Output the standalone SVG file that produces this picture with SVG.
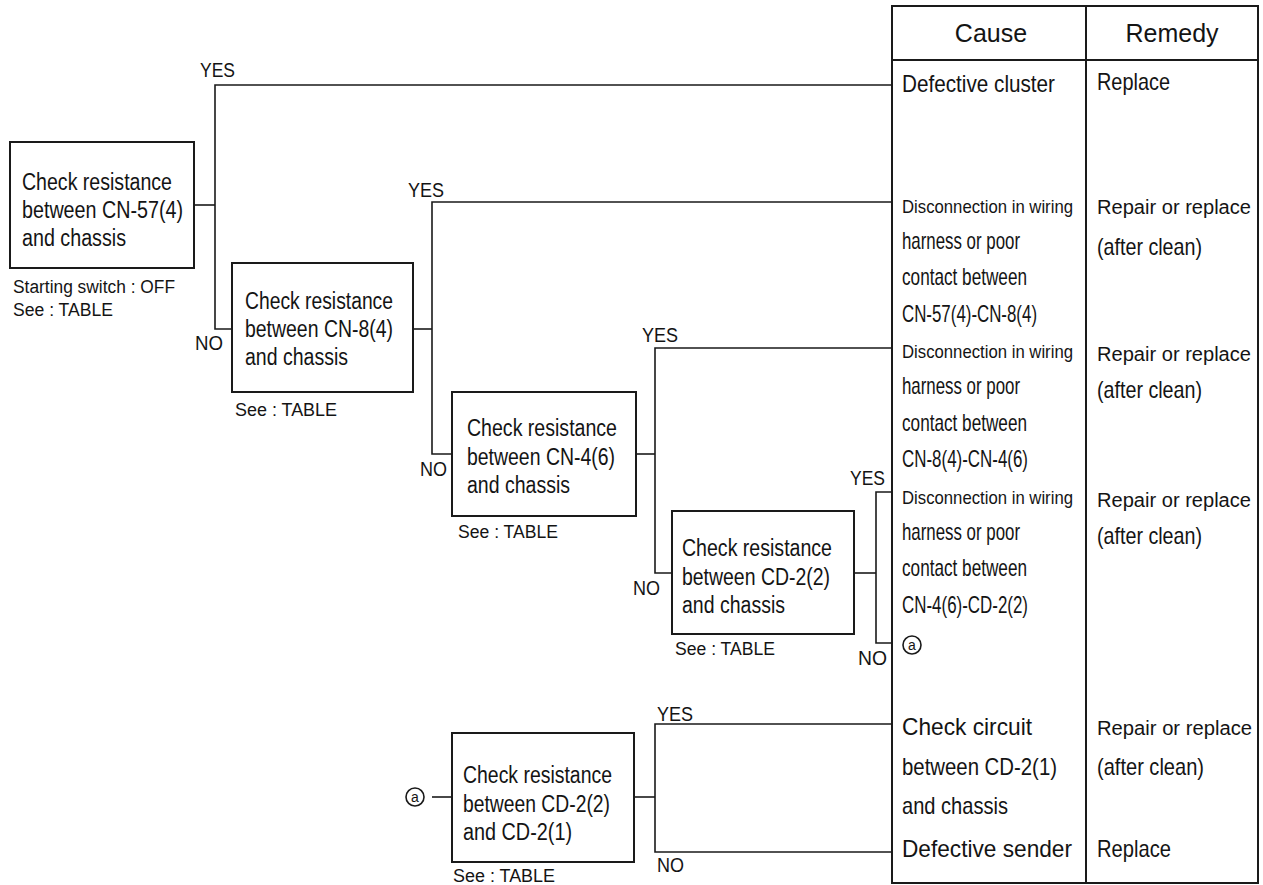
<svg xmlns="http://www.w3.org/2000/svg" width="1263" height="885" viewBox="0 0 1263 885">
<style>
text{font-family:"Liberation Sans",Arial,sans-serif;fill:#141414}
.b{font-size:23px}
.t{font-size:24px}
.d{font-size:19px}
.r{font-size:20px}
.h{font-size:25px}
.s{font-size:18px}
.l{font-size:20px}
.box{fill:none;stroke:#1a1a1a;stroke-width:2}
.ln{fill:none;stroke:#1a1a1a;stroke-width:1.6}
</style>
<rect x="0" y="0" width="1263" height="885" fill="#fff"/>

<g id="table">
<rect class="box" x="892" y="6" width="366" height="877"/>
<line class="box" x1="892" y1="60" x2="1258" y2="60"/>
<line class="box" x1="1086" y1="6" x2="1086" y2="883"/>
<text class="h" x="991" y="42" text-anchor="middle">Cause</text>
<text class="h" x="1172" y="42" text-anchor="middle">Remedy</text>
</g>

<g id="causes">
<text class="t" x="902" y="92" textLength="153" lengthAdjust="spacingAndGlyphs">Defective cluster</text>
<text class="d" x="902" y="213" textLength="171" lengthAdjust="spacingAndGlyphs">Disconnection in wiring</text>
<text class="t" x="902" y="249" textLength="118" lengthAdjust="spacingAndGlyphs">harness or poor</text>
<text class="t" x="902" y="285" textLength="125" lengthAdjust="spacingAndGlyphs">contact between</text>
<text class="t" x="902" y="322" textLength="135" lengthAdjust="spacingAndGlyphs">CN-57(4)-CN-8(4)</text>
<text class="d" x="902" y="358" textLength="171" lengthAdjust="spacingAndGlyphs">Disconnection in wiring</text>
<text class="t" x="902" y="394" textLength="118" lengthAdjust="spacingAndGlyphs">harness or poor</text>
<text class="t" x="902" y="431" textLength="125" lengthAdjust="spacingAndGlyphs">contact between</text>
<text class="t" x="902" y="467" textLength="126" lengthAdjust="spacingAndGlyphs">CN-8(4)-CN-4(6)</text>
<text class="d" x="902" y="504" textLength="171" lengthAdjust="spacingAndGlyphs">Disconnection in wiring</text>
<text class="t" x="902" y="540" textLength="118" lengthAdjust="spacingAndGlyphs">harness or poor</text>
<text class="t" x="902" y="576" textLength="125" lengthAdjust="spacingAndGlyphs">contact between</text>
<text class="t" x="902" y="613" textLength="126" lengthAdjust="spacingAndGlyphs">CN-4(6)-CD-2(2)</text>
<circle cx="912" cy="645" r="9" fill="none" stroke="#1a1a1a" stroke-width="1.6"/>
<text x="912" y="650" font-size="14" text-anchor="middle">a</text>
<text class="t" x="902" y="735" textLength="130" lengthAdjust="spacingAndGlyphs">Check circuit</text>
<text class="t" x="902" y="775" textLength="155" lengthAdjust="spacingAndGlyphs">between CD-2(1)</text>
<text class="t" x="902" y="814" textLength="106" lengthAdjust="spacingAndGlyphs">and chassis</text>
<text class="t" x="902" y="857" textLength="170" lengthAdjust="spacingAndGlyphs">Defective sender</text>
</g>

<g id="remedies">
<text class="t" x="1097" y="90" textLength="73" lengthAdjust="spacingAndGlyphs">Replace</text>
<text class="r" x="1097" y="214" textLength="154" lengthAdjust="spacingAndGlyphs">Repair or replace</text>
<text class="t" x="1097" y="255" textLength="105" lengthAdjust="spacingAndGlyphs">(after clean)</text>
<text class="r" x="1097" y="361" textLength="154" lengthAdjust="spacingAndGlyphs">Repair or replace</text>
<text class="t" x="1097" y="398" textLength="105" lengthAdjust="spacingAndGlyphs">(after clean)</text>
<text class="r" x="1097" y="507" textLength="154" lengthAdjust="spacingAndGlyphs">Repair or replace</text>
<text class="t" x="1097" y="544" textLength="105" lengthAdjust="spacingAndGlyphs">(after clean)</text>
<text class="r" x="1097" y="735" textLength="155" lengthAdjust="spacingAndGlyphs">Repair or replace</text>
<text class="t" x="1097" y="775" textLength="107" lengthAdjust="spacingAndGlyphs">(after clean)</text>
<text class="t" x="1097" y="857" textLength="74" lengthAdjust="spacingAndGlyphs">Replace</text>
</g>

<g id="connectors">
<polyline class="ln" points="194,205 215,205"/>
<polyline class="ln" points="892,85 215,85 215,329 232,329"/>
<polyline class="ln" points="413,329 432,329"/>
<polyline class="ln" points="892,202 432,202 432,454 452,454"/>
<polyline class="ln" points="636,454 655,454"/>
<polyline class="ln" points="892,348 655,348 655,573 672,573"/>
<polyline class="ln" points="854,573 876,573"/>
<polyline class="ln" points="892,492 876,492 876,643 892,643"/>
<polyline class="ln" points="432,797 452,797"/>
<polyline class="ln" points="634,797 655,797"/>
<polyline class="ln" points="892,724 655,724 655,852 892,852"/>
<text class="l" x="200" y="77" textLength="35" lengthAdjust="spacingAndGlyphs">YES</text>
<text class="l" x="408" y="197" textLength="36" lengthAdjust="spacingAndGlyphs">YES</text>
<text class="l" x="195" y="350" textLength="28" lengthAdjust="spacingAndGlyphs">NO</text>
<text class="l" x="642" y="342" textLength="36" lengthAdjust="spacingAndGlyphs">YES</text>
<text class="l" x="420" y="476" textLength="27" lengthAdjust="spacingAndGlyphs">NO</text>
<text class="l" x="850" y="485" textLength="35" lengthAdjust="spacingAndGlyphs">YES</text>
<text class="l" x="633" y="595" textLength="27" lengthAdjust="spacingAndGlyphs">NO</text>
<text class="l" x="858" y="665" textLength="29" lengthAdjust="spacingAndGlyphs">NO</text>
<text class="l" x="657" y="721" textLength="36" lengthAdjust="spacingAndGlyphs">YES</text>
<text class="l" x="657" y="872" textLength="27" lengthAdjust="spacingAndGlyphs">NO</text>
</g>

<g id="node1">
<rect class="box" x="10" y="142" width="184" height="126"/>
<text class="b" x="22" y="190" textLength="150" lengthAdjust="spacingAndGlyphs">Check resistance</text>
<text class="b" x="22" y="218" textLength="161" lengthAdjust="spacingAndGlyphs">between CN-57(4)</text>
<text class="b" x="22" y="246" textLength="104" lengthAdjust="spacingAndGlyphs">and chassis</text>
<text class="s" x="13" y="293" textLength="162" lengthAdjust="spacingAndGlyphs">Starting switch : OFF</text>
<text class="s" x="13" y="316" textLength="100" lengthAdjust="spacingAndGlyphs">See : TABLE</text>
</g>

<g id="node2">
<rect class="box" x="232" y="263" width="181" height="129"/>
<text class="b" x="245" y="309" textLength="148" lengthAdjust="spacingAndGlyphs">Check resistance</text>
<text class="b" x="245" y="337" textLength="148" lengthAdjust="spacingAndGlyphs">between CN-8(4)</text>
<text class="b" x="245" y="365" textLength="103" lengthAdjust="spacingAndGlyphs">and chassis</text>
<text class="s" x="235" y="416" textLength="102" lengthAdjust="spacingAndGlyphs">See : TABLE</text>
</g>

<g id="node3">
<rect class="box" x="452" y="392" width="184" height="124"/>
<text class="b" x="467" y="436" textLength="150" lengthAdjust="spacingAndGlyphs">Check resistance</text>
<text class="b" x="467" y="465" textLength="148" lengthAdjust="spacingAndGlyphs">between CN-4(6)</text>
<text class="b" x="467" y="493" textLength="103" lengthAdjust="spacingAndGlyphs">and chassis</text>
<text class="s" x="458" y="538" textLength="100" lengthAdjust="spacingAndGlyphs">See : TABLE</text>
</g>

<g id="node4">
<rect class="box" x="672" y="511" width="182" height="123"/>
<text class="b" x="682" y="556" textLength="150" lengthAdjust="spacingAndGlyphs">Check resistance</text>
<text class="b" x="682" y="585" textLength="148" lengthAdjust="spacingAndGlyphs">between CD-2(2)</text>
<text class="b" x="682" y="613" textLength="103" lengthAdjust="spacingAndGlyphs">and chassis</text>
<text class="s" x="675" y="655" textLength="100" lengthAdjust="spacingAndGlyphs">See : TABLE</text>
</g>

<g id="node5">
<circle cx="415" cy="797" r="9" fill="none" stroke="#1a1a1a" stroke-width="1.6"/>
<text x="415" y="802" font-size="14" text-anchor="middle">a</text>
<rect class="box" x="452" y="733" width="182" height="129"/>
<text class="b" x="463" y="783" textLength="149" lengthAdjust="spacingAndGlyphs">Check resistance</text>
<text class="b" x="463" y="812" textLength="147" lengthAdjust="spacingAndGlyphs">between CD-2(2)</text>
<text class="b" x="463" y="840" textLength="109" lengthAdjust="spacingAndGlyphs">and CD-2(1)</text>
<text class="s" x="453" y="882" textLength="102" lengthAdjust="spacingAndGlyphs">See : TABLE</text>
</g>
</svg>
